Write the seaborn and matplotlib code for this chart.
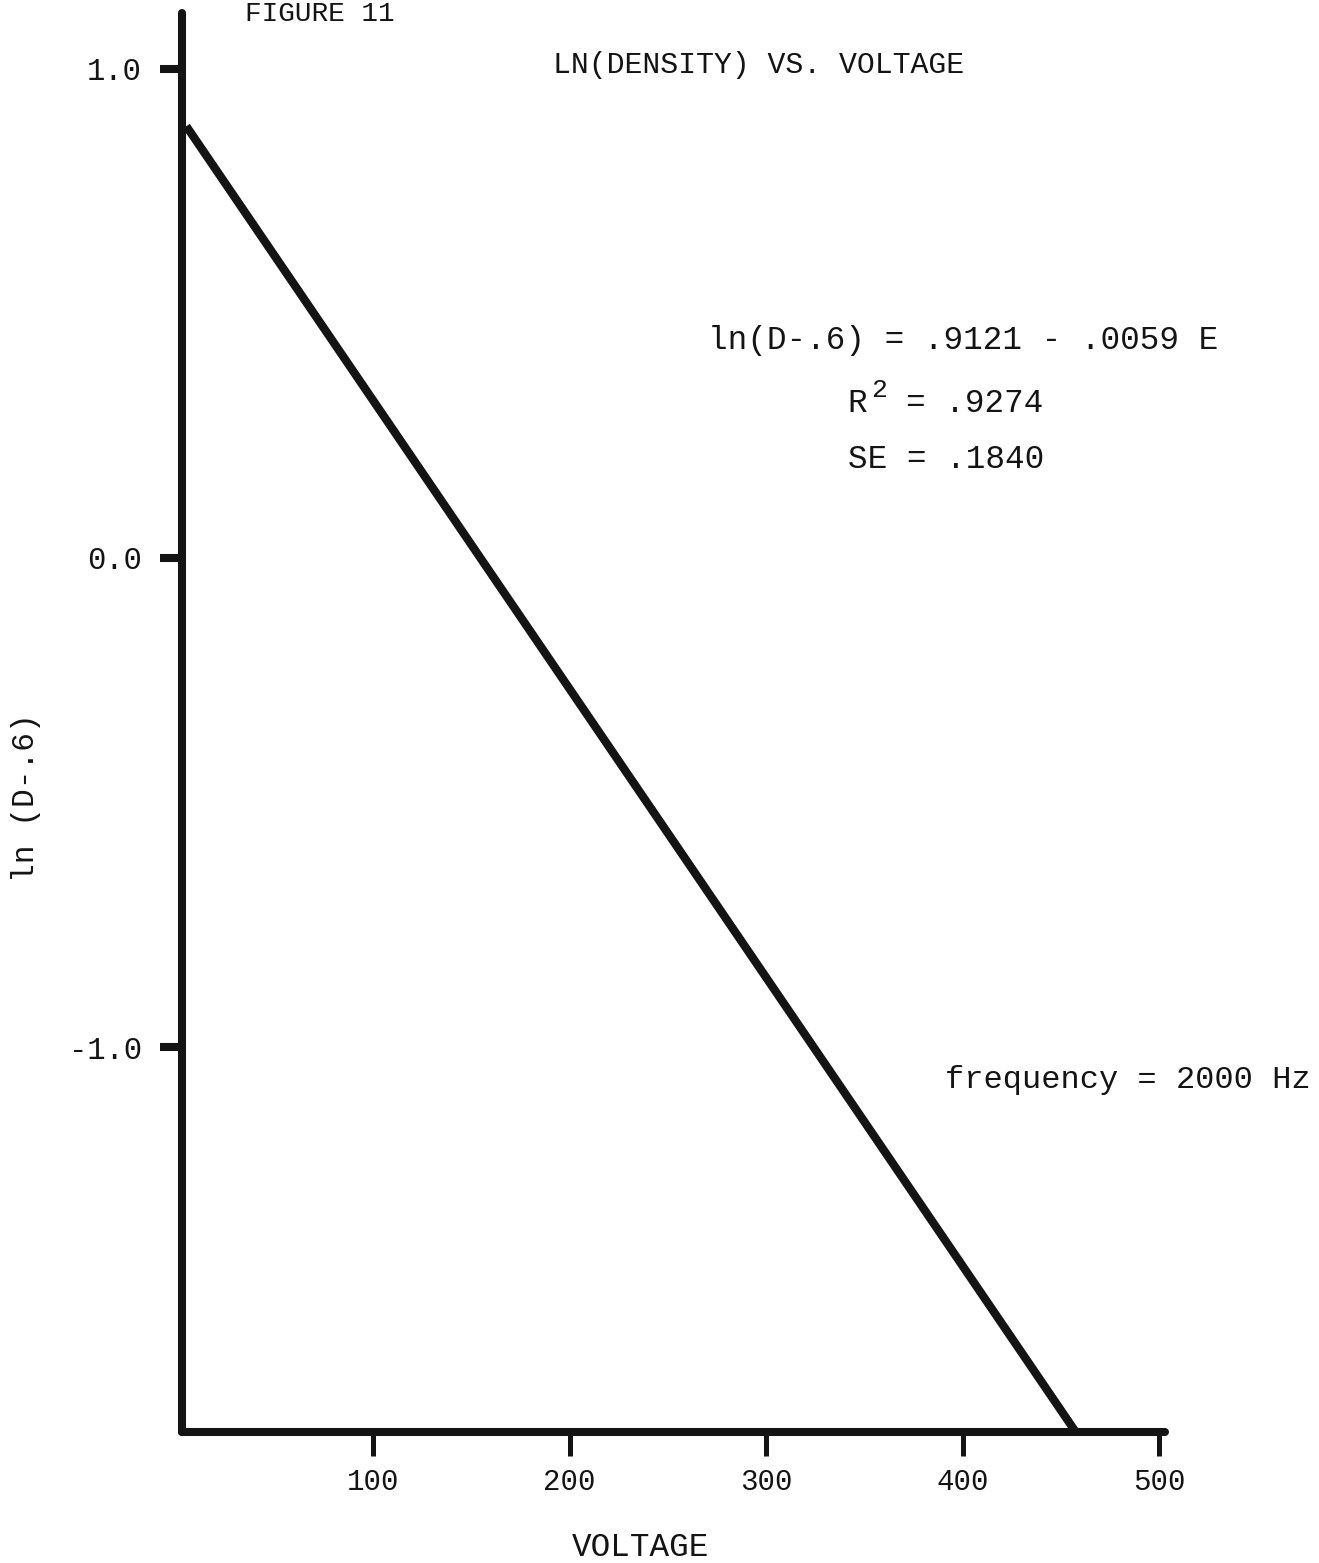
import matplotlib
matplotlib.use("Agg")
import matplotlib.pyplot as plt
import seaborn as sns
import numpy as np
import pandas as pd

# Fitted regression: ln(D-.6) = a + b*E
intercept = 0.9121
slope = -0.0059
r_squared = 0.9274
std_error = 0.1840
frequency_hz = 2000

# Voltage range covered by the fitted line
voltage = [5, 457]
x_ticks = [100, 200, 300, 400, 500]
x_tick_labels = ["100", "200", "300", "400", "500"]
y_ticks = [1.0, 0.0, -1.0]
y_tick_labels = ["1.0", "0.0", "-1.0"]

df = pd.DataFrame({"voltage": voltage})
df["ln_density"] = intercept + slope * df["voltage"]

sns.set_theme(style="white")
plt.rcParams["font.family"] = ["Liberation Mono", "DejaVu Sans Mono"]

W, H = 1319, 1563
fig = plt.figure(figsize=(W / 100, H / 100), dpi=100)
fig.patch.set_facecolor("white")

# axes box in pixels: left, right, bottom, top
L, R, B, T = 182, 1165, 1432, 13
ax = fig.add_axes([L / W, 1 - B / H, (R - L) / W, (B - T) / H])

ink = "#141414"
sns.lineplot(data=df, x="voltage", y="ln_density", ax=ax, color=ink,
             linewidth=6.0, solid_capstyle="butt")

ax.set_xlim(2.8, 502.9)
ax.set_ylim(-1.787, 1.114)

for side in ["top", "right"]:
    ax.spines[side].set_visible(False)
for side in ["left", "bottom"]:
    ax.spines[side].set_linewidth(5.8)
    ax.spines[side].set_color(ink)
    ax.spines[side].set_capstyle("round")

ax.set_xticks(x_ticks)
ax.set_xticklabels(x_tick_labels)
ax.set_yticks(y_ticks)
ax.set_yticklabels(y_tick_labels)
ax.tick_params(axis="x", direction="out", length=17, width=3.6, color=ink,
               pad=9, labelsize=21, labelcolor=ink, bottom=True)
ax.tick_params(axis="y", direction="out", length=16, width=5.8, color=ink,
               pad=13, labelsize=22, labelcolor=ink, left=True)
ax.set_xlabel("")
ax.set_ylabel("")
ax.grid(False)


def fx(px):
    return px / W


def fy(py):
    return 1 - py / H


def short(v):
    return f"{v:.4f}".lstrip("0")


fig.text(fx(320), fy(1), "FIGURE 11", ha="center", va="top",
         fontsize=20, color=ink)
fig.text(fx(759), fy(65), "LN(DENSITY) VS. VOLTAGE", ha="center",
         va="center", fontsize=21.5, color=ink)
fig.text(fx(963), fy(341), f"ln(D-.6) = {short(intercept)} - {short(abs(slope))} E",
         ha="center", va="center", fontsize=23.5, color=ink)
# R squared with a raised typewriter-style exponent
fig.text(fx(847), fy(403), "R", ha="left", va="center", fontsize=23.5,
         color=ink)
fig.text(fx(879), fy(390), "2", ha="center", va="center", fontsize=19,
         color=ink)
fig.text(fx(906), fy(403), f"= {short(r_squared)}", ha="left",
         va="center", fontsize=23.5, color=ink)
fig.text(fx(848), fy(460), f"SE = {short(std_error)}", ha="left",
         va="center", fontsize=23.5, color=ink)
fig.text(fx(945), fy(1080), f"frequency = {frequency_hz} Hz", ha="left",
         va="center", fontsize=23, color=ink)
fig.text(fx(641), fy(1547), "VOLTAGE", ha="center", va="center",
         fontsize=23.5, color=ink)
fig.text(fx(26), fy(798), "ln (D-.6)", ha="center", va="center",
         rotation=90, fontsize=22.5, color=ink)

fig.savefig("out.png", dpi=100, facecolor="white")
